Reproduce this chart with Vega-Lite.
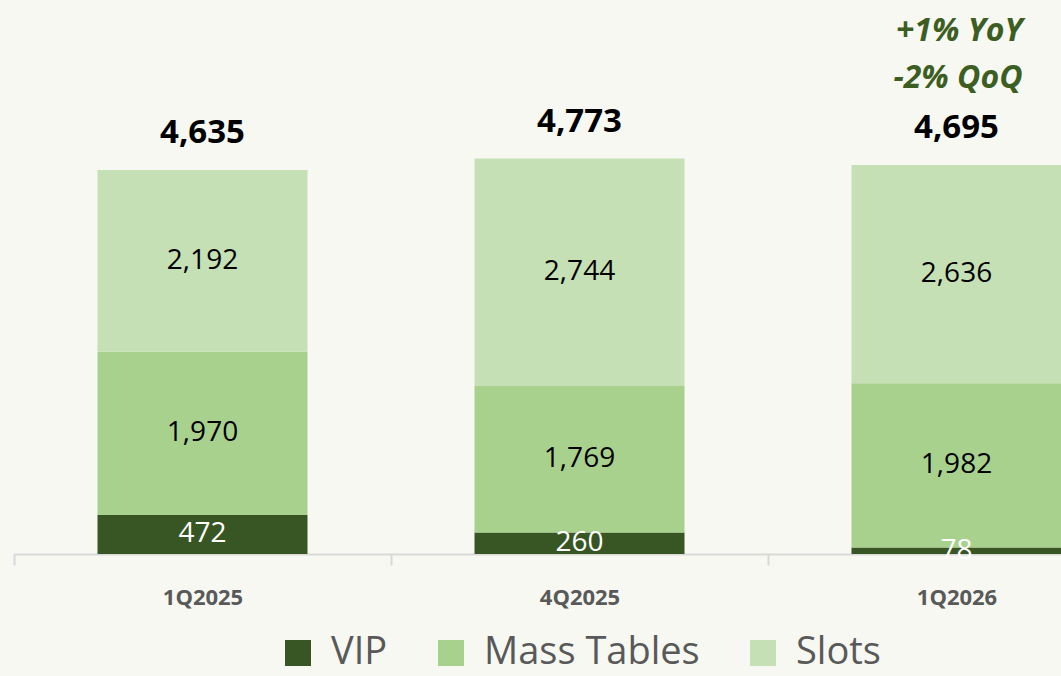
{
  "$schema": "https://vega.github.io/schema/vega-lite/v6.json",
  "width": 1131,
  "height": 554,
  "autosize": {"type": "none"},
  "padding": {"left": 14, "top": 0, "right": 0, "bottom": 122},
  "background": "#f6f8f1",
  "config": {"view": {"stroke": null}, "font": "Open Sans", "legend": {"layout": {"bottom": {"anchor": "middle"}}}},
  "datasets": {
    "segments": [
      {"quarter": "1Q2025", "segment": "VIP", "rank": 1, "value": 472},
      {"quarter": "1Q2025", "segment": "Mass Tables", "rank": 2, "value": 1970},
      {"quarter": "1Q2025", "segment": "Slots", "rank": 3, "value": 2192},
      {"quarter": "4Q2025", "segment": "VIP", "rank": 1, "value": 260},
      {"quarter": "4Q2025", "segment": "Mass Tables", "rank": 2, "value": 1769},
      {"quarter": "4Q2025", "segment": "Slots", "rank": 3, "value": 2744},
      {"quarter": "1Q2026", "segment": "VIP", "rank": 1, "value": 78},
      {"quarter": "1Q2026", "segment": "Mass Tables", "rank": 2, "value": 1982},
      {"quarter": "1Q2026", "segment": "Slots", "rank": 3, "value": 2636}
    ],
    "totals": [
      {"quarter": "1Q2025", "total": 4635},
      {"quarter": "4Q2025", "total": 4773},
      {"quarter": "1Q2026", "total": 4695, "note": ["+1% YoY", "-2% QoQ"]}
    ]
  },
  "encoding": {
    "x": {
      "field": "quarter",
      "type": "nominal",
      "sort": ["1Q2025", "4Q2025", "1Q2026"],
      "scale": {"paddingInner": 0, "paddingOuter": 0},
      "axis": {
        "title": null,
        "labelAngle": 0,
        "tickBand": "extent",
        "domainColor": "#d9d9d9",
        "domainWidth": 2,
        "tickColor": "#d9d9d9",
        "tickWidth": 2,
        "tickSize": 11,
        "labelPadding": 22,
        "labelFontSize": 22,
        "labelFontWeight": "bold",
        "labelColor": "#595959",
        "labelBaseline": "top"
      }
    }
  },
  "layer": [
    {
      "data": {"name": "segments"},
      "mark": {"type": "bar", "width": {"band": 0.557}},
      "encoding": {
        "y": {"field": "value", "type": "quantitative", "stack": "zero", "scale": {"domain": [0, 6687], "nice": false}, "axis": null},
        "order": {"field": "rank", "type": "quantitative"},
        "color": {
          "field": "segment",
          "type": "nominal",
          "scale": {"domain": ["VIP", "Mass Tables", "Slots"], "range": ["#375623", "#a9d18e", "#c5e0b4"]},
          "legend": {
            "title": null,
            "orient": "bottom",
            "direction": "horizontal",
            "symbolType": "square",
            "symbolSize": 676,
            "symbolStrokeWidth": 0,
            "labelFontSize": 38,
            "labelColor": "#595959",
            "labelFont": "Open Sans",
            "labelOffset": 14,
            "columnPadding": 44,
            "labelLimit": 500,
            "offset": 26
          }
        }
      }
    },
    {
      "data": {"name": "segments"},
      "transform": [
        {"stack": "value", "groupby": ["quarter"], "sort": [{"field": "rank"}], "as": ["v0", "v1"]},
        {"calculate": "(datum.v0 + datum.v1) / 2", "as": "mid"}
      ],
      "mark": {"type": "text", "fontSize": 28, "baseline": "middle"},
      "encoding": {
        "y": {"field": "mid", "type": "quantitative"},
        "text": {"field": "value", "type": "quantitative", "format": ","},
        "color": {"condition": {"test": "datum.segment === 'VIP'", "value": "#ffffff"}, "value": "#000000"}
      }
    },
    {
      "data": {"name": "totals"},
      "mark": {"type": "text", "fontSize": 33, "fontWeight": "bold", "baseline": "middle", "dy": -37, "color": "#000000"},
      "encoding": {
        "y": {"field": "total", "type": "quantitative"},
        "text": {"field": "total", "type": "quantitative", "format": ","}
      }
    },
    {
      "data": {"name": "totals"},
      "transform": [{"filter": "datum.note"}],
      "mark": {"type": "text", "fontSize": 32, "fontWeight": "bold", "fontStyle": "italic", "align": "right", "baseline": "bottom", "dx": 66, "dy": -117, "lineHeight": 47, "color": "#3d5e23"},
      "encoding": {
        "y": {"field": "total", "type": "quantitative"},
        "text": {"field": "note"}
      }
    }
  ]
}
